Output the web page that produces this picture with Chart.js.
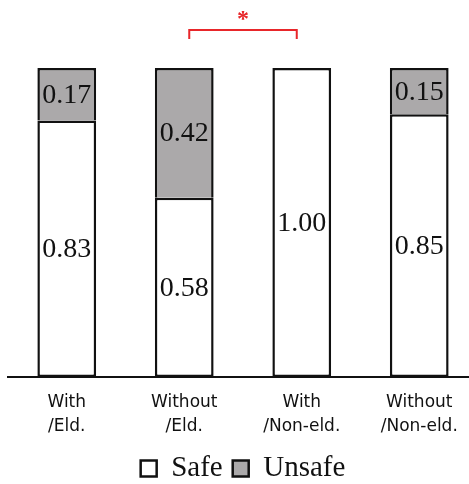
<!DOCTYPE html>
<html>
<head>
<meta charset="utf-8">
<script src="https://cdn.jsdelivr.net/npm/chart.js@4/dist/chart.umd.min.js"></script>
<style>
  html, body { margin: 0; padding: 0; background: #fff; overflow: hidden; }
  #wrap { width: 478px; height: 484px; }
</style>
</head>
<body>
<div id="wrap"><canvas id="chart" width="478" height="484"></canvas></div>
<script>
'use strict'

// groups on the x axis (two lines each)
const groups = [['With', '/Eld.'], ['Without', '/Eld.'], ['With', '/Non-eld.'], ['Without', '/Non-eld.']];
const safeShare = [0.83, 0.58, 1.00, 0.85];
const unsafeShare = [0.17, 0.42, 0, 0.15];
const seriesNames = ['Safe', 'Unsafe'];
// significant pair (indexes into groups)
const sigPair = [1, 2];

const serif = "'Liberation Serif', 'Times New Roman', serif";

// writes the share inside each stacked segment
const segmentLabels = {
  id: 'segmentLabels',
  afterDatasetsDraw(chart) {
    const ctx = chart.ctx;
    ctx.save();
    ctx.font = '28px ' + serif;
    ctx.fillStyle = '#111';
    ctx.textAlign = 'center';
    ctx.textBaseline = 'middle';
    chart.data.datasets.forEach((ds, di) => {
      chart.getDatasetMeta(di).data.forEach((bar, i) => {
        const v = ds.data[i];
        if (!v) return;
        const mid = (bar.y + bar.base) / 2;
        ctx.fillText(v.toFixed(2), bar.x, mid + 1);
      });
    });
    ctx.restore();
  }
};

// red bracket + star over the significant pair
const sigBracket = {
  id: 'sigBracket',
  afterDraw(chart) {
    const ctx = chart.ctx;
    const xs = chart.scales.x;
    const x1 = xs.getPixelForValue(sigPair[0]) + 5;
    const x2 = xs.getPixelForValue(sigPair[1]) - 5;
    ctx.save();
    ctx.strokeStyle = '#e8262a';
    ctx.lineWidth = 2;
    ctx.beginPath();
    ctx.moveTo(x1, 39);
    ctx.lineTo(x1, 30);
    ctx.lineTo(x2, 30);
    ctx.lineTo(x2, 39);
    ctx.stroke();
    ctx.fillStyle = '#e8262a';
    ctx.font = 'bold 24px ' + serif;
    ctx.textAlign = 'center';
    ctx.textBaseline = 'middle';
    ctx.fillText('*', (x1 + x2) / 2, 20);
    ctx.restore();
  }
};

new Chart(document.getElementById('chart'), {
  type: 'bar',
  data: {
    labels: groups,
    datasets: [
      {
        label: seriesNames[0],
        data: safeShare,
        backgroundColor: '#ffffff',
        borderColor: '#111',
        borderWidth: 2.5,
        borderSkipped: false,
        clip: false
      },
      {
        label: seriesNames[1],
        data: unsafeShare,
        backgroundColor: '#aba9aa',
        borderColor: '#111',
        borderWidth: 2.5,
        borderSkipped: 'bottom', // shares the line with the segment below
        clip: false
      }
    ]
  },
  options: {
    responsive: false,
    animation: false,
    layout: { padding: { left: 8, right: 0, top: 68, bottom: -9 } },
    datasets: { bar: { categoryPercentage: 1, barPercentage: 0.5 } },
    scales: {
      x: {
        stacked: true,
        grid: { display: false, drawTicks: false },
        border: { display: true, color: '#111', width: 2 },
        ticks: {
          color: '#111',
          padding: 14,
          maxRotation: 0,
          font: { family: "'DejaVu Sans', sans-serif", size: 17, lineHeight: 1.38 }
        },
        // let the labels run into the legend's top margin
        afterFit(scale) { scale.height -= 8; }
      },
      y: { stacked: true, display: false, min: 0, max: 1 }
    },
    plugins: {
      tooltip: { enabled: false },
      legend: {
        position: 'bottom',
        labels: {
          color: '#111',
          boxWidth: 16,
          boxHeight: 16,
          padding: 10,
          font: { family: serif, size: 29, lineHeight: 1 }
        }
      }
    }
  },
  plugins: [segmentLabels, sigBracket]
});
</script>
</body>
</html>
